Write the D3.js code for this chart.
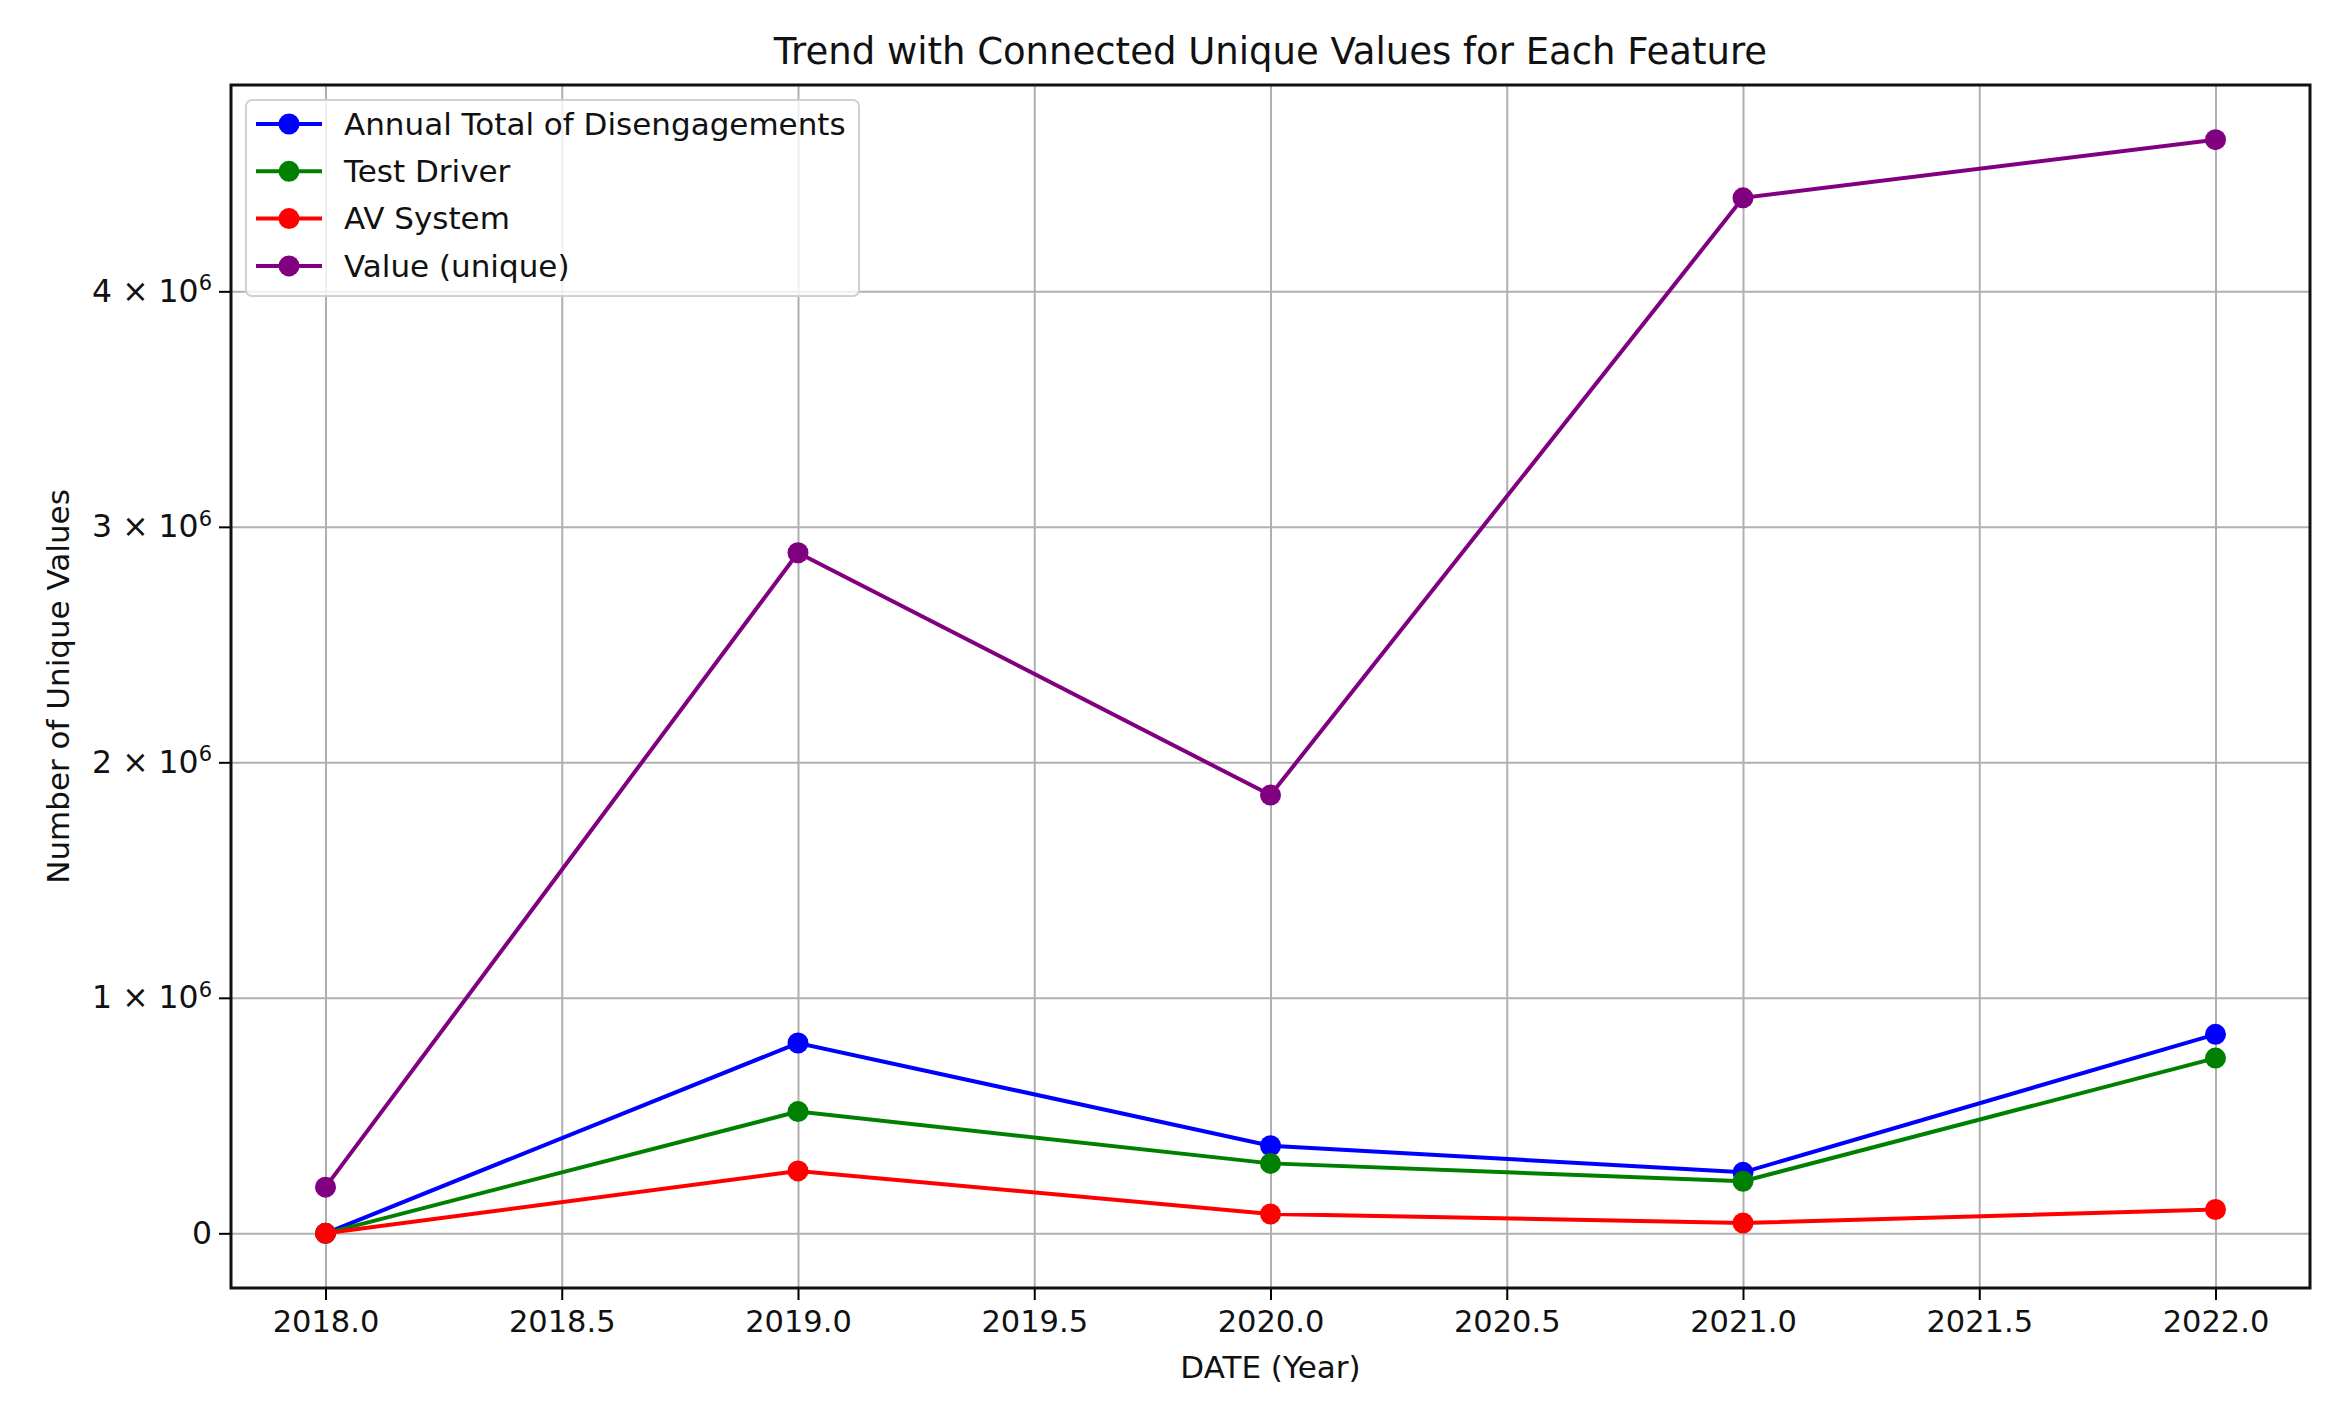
<!DOCTYPE html>
<html>
<head>
<meta charset="utf-8">
<script src="https://cdn.jsdelivr.net/npm/d3@7"></script>
<style>
    body { margin: 0; background: #fff; }
    text { font-family: "DejaVu Sans", sans-serif; fill: #111; }
</style>
</head>
<body>
<svg id="canvas" width="2334" height="1405"></svg>
<script>
const YEARS = [2018, 2019, 2020, 2021, 2022];
const ANNUAL_TOTAL = [0, 808000, 372000, 259000, 845000];
const TEST_DRIVER = [0, 517000, 297000, 221000, 744000];
const AV_SYSTEM = [0, 265000, 82000, 44000, 101000];
const VALUE_UNIQUE = [196000, 2890000, 1861000, 4397000, 4644000];

const SERIES_NAMES = ["Annual Total of Disengagements", "Test Driver", "AV System", "Value (unique)"];
const SERIES_COLORS = ["blue", "green", "red", "purple"];
const SERIES_VALUES = [ANNUAL_TOTAL, TEST_DRIVER, AV_SYSTEM, VALUE_UNIQUE];

const X_TICKS = [2018, 2018.5, 2019, 2019.5, 2020, 2020.5, 2021, 2021.5, 2022];
const Y_TICKS = [0, 1e6, 2e6, 3e6, 4e6];

const TITLE = "Trend with Connected Unique Values for Each Feature";
const X_LABEL = "DATE (Year)";
const Y_LABEL = "Number of Unique Values";

const WIDTH = 2334;
const HEIGHT = 1405;
const margin = { top: 85, right: 24, bottom: 117, left: 231 };

const svg = d3.select("#canvas");

// matplotlib style 5% margins
const yMax = d3.max(SERIES_VALUES.flat());
const yPad = yMax * 0.05;
const xPad = (d3.max(YEARS) - d3.min(YEARS)) * 0.05;

const scaleX = d3.scaleLinear()
    .domain([d3.min(YEARS) - xPad, d3.max(YEARS) + xPad])
    .range([margin.left, WIDTH - margin.right]);

const scaleY = d3.scaleLinear()
    .domain([0 - yPad, yMax + yPad])
    .range([HEIGHT - margin.bottom, margin.top]);

// grid
svg.append("g")
    .attr("transform", `translate(0,${HEIGHT - margin.bottom})`)
    .call(d3.axisBottom(scaleX).tickValues(X_TICKS).tickSize(-(HEIGHT - margin.top - margin.bottom)).tickFormat(""))
    .call(g => g.select(".domain").remove())
    .selectAll("line").attr("stroke", "#b0b0b0").attr("stroke-width", 2);

svg.append("g")
    .attr("transform", `translate(${margin.left},0)`)
    .call(d3.axisLeft(scaleY).tickValues(Y_TICKS).tickSize(-(WIDTH - margin.left - margin.right)).tickFormat(""))
    .call(g => g.select(".domain").remove())
    .selectAll("line").attr("stroke", "#b0b0b0").attr("stroke-width", 2);

// series
const line = d3.line()
    .x((d, i) => scaleX(YEARS[i]))
    .y(d => scaleY(d));

SERIES_VALUES.forEach((values, k) => {
    const g = svg.append("g").attr("class", "series");
    g.append("path")
        .attr("d", line(values))
        .attr("fill", "none")
        .attr("stroke", SERIES_COLORS[k])
        .attr("stroke-width", 4);
    g.selectAll("circle")
        .data(values)
        .enter()
        .append("circle")
        .attr("cx", (d, i) => scaleX(YEARS[i]))
        .attr("cy", d => scaleY(d))
        .attr("r", 10.5)
        .attr("fill", SERIES_COLORS[k]);
});

// axes
const xAxis = svg.append("g")
    .attr("transform", `translate(0,${HEIGHT - margin.bottom})`)
    .call(d3.axisBottom(scaleX).tickValues(X_TICKS).tickSize(12).tickPadding(10).tickFormat(d3.format(".1f")));
xAxis.select(".domain").remove();
xAxis.selectAll("line").attr("stroke", "#000").attr("stroke-width", 2);
xAxis.selectAll("text").attr("font-size", 30.5).attr("font-family", "DejaVu Sans").attr("fill", "#111");

const yAxis = svg.append("g")
    .attr("transform", `translate(${margin.left},0)`)
    .call(d3.axisLeft(scaleY).tickValues(Y_TICKS).tickSize(12).tickPadding(7).tickFormat(""));
yAxis.select(".domain").remove();
yAxis.selectAll("line").attr("stroke", "#000").attr("stroke-width", 2);
yAxis.selectAll(".tick text")
    .attr("font-size", 31.5)
    .attr("font-family", "DejaVu Sans")
    .attr("fill", "#111")
    .each(function (d) {
        const t = d3.select(this);
        if (d === 0) {
            t.text("0");
            return;
        }
        t.append("tspan").text(`${d / 1e6} × 10`);
        t.append("tspan").text("6").attr("font-size", 21).attr("dy", "-0.55em");
    });

// frame
svg.append("rect")
    .attr("x", margin.left)
    .attr("y", margin.top)
    .attr("width", WIDTH - margin.left - margin.right)
    .attr("height", HEIGHT - margin.top - margin.bottom)
    .attr("fill", "none")
    .attr("stroke", "#111")
    .attr("stroke-width", 3);

// labels
svg.append("text")
    .attr("x", (margin.left + WIDTH - margin.right) / 2)
    .attr("y", 64)
    .attr("text-anchor", "middle")
    .attr("font-size", 37)
    .text(TITLE);

svg.append("text")
    .attr("x", (margin.left + WIDTH - margin.right) / 2)
    .attr("y", 1378)
    .attr("text-anchor", "middle")
    .attr("font-size", 31)
    .text(X_LABEL);

svg.append("text")
    .attr("transform", `translate(69,${(margin.top + HEIGHT - margin.bottom) / 2}) rotate(-90)`)
    .attr("text-anchor", "middle")
    .attr("font-size", 31)
    .text(Y_LABEL);

// legend
const legend = svg.append("g").attr("transform", "translate(246,100)");
legend.append("rect")
    .attr("width", 613)
    .attr("height", 196)
    .attr("rx", 6)
    .attr("fill", "rgba(255,255,255,0.8)")
    .attr("stroke", "#d0d0d0")
    .attr("stroke-width", 2);

const items = legend.selectAll(".item")
    .data(SERIES_NAMES)
    .enter()
    .append("g")
    .attr("class", "item")
    .attr("transform", (d, i) => `translate(0,${24 + i * 47.3})`);

items.append("line")
    .attr("x1", 10).attr("x2", 76)
    .attr("stroke", (d, i) => SERIES_COLORS[i])
    .attr("stroke-width", 4);
items.append("circle")
    .attr("cx", 43)
    .attr("r", 10.5)
    .attr("fill", (d, i) => SERIES_COLORS[i]);
items.append("text")
    .attr("x", 98)
    .attr("dy", "0.35em")
    .attr("font-size", 31)
    .text(d => d);
</script>
</body>
</html>
